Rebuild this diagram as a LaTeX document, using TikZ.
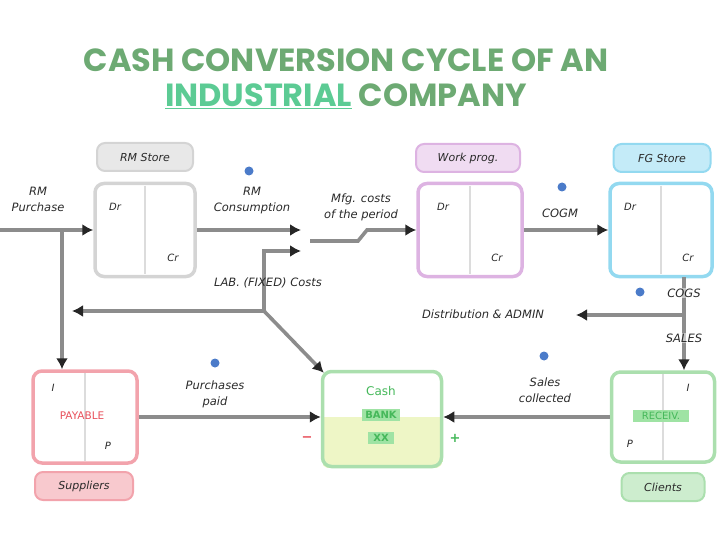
\documentclass[tikz,border=0pt]{standalone}
\usepackage{fontspec}
\setmainfont{DejaVu Sans}
\newfontfamily\titlefont{Poppins}
\usetikzlibrary{arrows.meta,backgrounds}
\definecolor{linec}{HTML}{8C8C8C}
\definecolor{tipc}{HTML}{262626}
\definecolor{grayb}{HTML}{D4D4D4}
\definecolor{grayf}{HTML}{E8E8E8}
\definecolor{purb}{HTML}{DDB3E2}
\definecolor{purf}{HTML}{F0DCF2}
\definecolor{cyab}{HTML}{93D9F0}
\definecolor{cyaf}{HTML}{C4EBF8}
\definecolor{pinb}{HTML}{F2A3AC}
\definecolor{pinf}{HTML}{F8C9CE}
\definecolor{grnb}{HTML}{ABDFAE}
\definecolor{grnf}{HTML}{CDEDCE}
\definecolor{yelf}{HTML}{EEF6C6}
\definecolor{dotc}{HTML}{4B7BC9}
\definecolor{titc}{HTML}{6DAA73}
\definecolor{indc}{HTML}{5CCB94}
\definecolor{txtc}{HTML}{2A2A2A}
\definecolor{redt}{HTML}{E8505B}
\definecolor{grnt}{HTML}{45B85A}
\definecolor{grnh}{HTML}{9FE3A4}
\definecolor{divc}{HTML}{DCDCDC}
\tikzset{
 acct/.style={draw=#1, line width=3.5pt, rounded corners=9pt, minimum width=100pt, minimum height=93pt, inner sep=0pt},
 tag/.style 2 args={draw=#1, fill=#2, line width=2pt, rounded corners=8pt, minimum height=28pt, inner sep=0pt, font=\itshape\fontsize{11}{13}\selectfont, text=txtc},
 flow/.style={draw=linec, line width=3.6pt, -{Latex[length=11pt,width=12pt,color=tipc]}},
 lbl/.style={font=\itshape\fontsize{11.5}{16}\selectfont, text=txtc, align=center, inner sep=1pt},
 small/.style={font=\itshape\fontsize{10}{12}\selectfont, text=txtc, inner sep=0pt},
 bdot/.style={circle, fill=dotc, minimum size=9pt, inner sep=0pt},
 divl/.style={draw=divc, line width=2pt},
 ttl/.style={font=\titlefont\bfseries\fontsize{32}{38}\selectfont, text=titc, inner sep=0pt},
}
\begin{document}
\begin{tikzpicture}[x=1pt,y=-1pt]
\useasboundingbox (0,0) rectangle (720,540);
% title
\node[ttl] (t1) at (346,60) {CASH CONVERSION CYCLE OF AN};
\node[ttl] (t2) at (346,96) {\textcolor{indc}{\underline{INDUSTRIAL}} COMPANY};
% account boxes
\node[acct=grayb] (rm) at (145,230) {};
\node[acct=purb, minimum width=104pt] (wip) at (470,230) {};
\node[acct=cyab, minimum width=102pt] (fg) at (661,230) {};
\node[acct=pinb, minimum width=104pt, minimum height=92pt] (pay) at (85,417) {};
\node[acct=grnb, minimum width=119pt, minimum height=95pt] (cash) at (382,419) {};
\node[acct=grnb, minimum width=103pt, minimum height=90pt] (rec) at (663,417) {};
\begin{scope}[on background layer]
\clip[rounded corners=9pt] (cash.north west) rectangle (cash.south east);
\fill[yelf] (323,417) rectangle (cash.south east);
\end{scope}
% tags
\node[tag={grayb}{grayf}, minimum width=96pt] (rmt) at (145,157) {RM Store};
\node[tag={purb}{purf}, minimum width=104pt] (wipt) at (468,158) {Work prog.};
\node[tag={cyab}{cyaf}, minimum width=97pt] (fgt) at (662,158) {FG Store};
\node[tag={pinb}{pinf}, minimum width=98pt] (supt) at (84,486) {Suppliers};
\node[tag={grnb}{grnf}, minimum width=83pt] (clit) at (663,487) {Clients};
% dividers
\draw[divl] ([yshift=-4pt]rm.north) -- ([yshift=4pt]rm.south);
\draw[divl] ([yshift=-4pt]wip.north) -- ([yshift=4pt]wip.south);
\draw[divl] ([yshift=-4pt]fg.north) -- ([yshift=4pt]fg.south);
\draw[divl] ([yshift=-4pt]pay.north) -- ([yshift=4pt]pay.south);
\draw[divl] ([yshift=-4pt]rec.north) -- ([yshift=4pt]rec.south);
% Dr / Cr
\node[small] (rmdr) at (115,207) {Dr};
\node[small] (rmcr) at (173,258) {Cr};
\node[small] (wipdr) at (443,207) {Dr};
\node[small] (wipcr) at (497,258) {Cr};
\node[small] (fgdr) at (630,207) {Dr};
\node[small] (fgcr) at (688,258) {Cr};
\node[small] (payi) at (53,388) {I};
\node[small] (payp) at (108,446) {P};
\node[small] (reci) at (688,388) {I};
\node[small] (recp) at (630,444) {P};
% inner texts
\node[text=redt, font=\fontsize{10.5}{12}\selectfont, inner sep=1pt] (payl) at (82,416) {PAYABLE};
\node[fill=grnh, text=grnt, font=\fontsize{10}{12}\selectfont, inner sep=2pt, minimum width=56pt] (recl) at (661,416) {RECEIV.};
\node[text=grnt, font=\fontsize{12}{14}\selectfont, inner sep=1pt] (cashl) at (381,391) {Cash};
\node[fill=grnh, text=grnt, font=\bfseries\fontsize{10}{12}\selectfont, inner sep=2pt, minimum width=38pt] (bank) at (381,415) {BANK};
\node[fill=grnh, text=grnt, font=\bfseries\fontsize{10}{12}\selectfont, inner sep=2pt, minimum width=26pt] (xx) at (381,438) {XX};
\node[text=redt, font=\bfseries\fontsize{13}{14}\selectfont, inner sep=0pt] (minus) at (307,439) {−};
\node[text=grnt, font=\bfseries\fontsize{13}{14}\selectfont, inner sep=0pt] (plus) at (455,438) {+};
% coordinates
\coordinate (rmin) at (0,230);
\coordinate (pj) at (62,230);
\coordinate (sumA) at (301,230);
\coordinate (sumB) at (301,251);
\coordinate (fj) at (264,311);
\coordinate (lend) at (72,311);
\coordinate (sumM) at (310,241);
\coordinate (fgo) at (684,277);
\coordinate (dj) at (684,315);
\coordinate (dend) at (576,315);
% connectors
\draw[flow] (rmin) -- (rm.west);
\draw[flow] (pj) -- (pj |- pay.north);
\draw[flow] (rm.east) -- (sumA);
\draw[flow] (fj) -- (fj |- sumB) -- (sumB);
\draw[flow] (fj) -- (lend);
\draw[flow] (fj) -- ([shift={(3pt,-3pt)}]cash.north west);
\draw[flow] (sumM) -- (358,241) -- (367,230) -- (wip.west);
\draw[flow] (wip.east) -- (fg.west);
\draw[flow] (fgo) -- (fgo |- rec.north);
\draw[flow] (dj) -- (dend);
\draw[flow] (rec.west) -- (rec.west -| cash.east);
\draw[flow] (pay.east) -- (pay.east -| cash.west);
% labels
\node[lbl] (rmpl) at (38,199) {RM\\Purchase};
\node[bdot] (d1) at (249,171) {};
\node[lbl] (rmcl) at (252,201) {RM\\Consumption};
\node[lbl] (mfgl) at (361,207) {Mfg. costs\\of the period};
\node[lbl] (fixl) at (268,283) {LAB. (FIXED) Costs};
\node[bdot] (d2) at (562,187) {};
\node[lbl] (cogml) at (560,213) {COGM};
\node[bdot] (d3) at (640,292) {};
\node[lbl, fill=white, fill opacity=0.5, text opacity=1] (cogsl) at (684,293) {COGS};
\node[lbl, fill=white, fill opacity=0.5, text opacity=1] (salesl) at (684,338) {SALES};
\node[lbl] (distl) at (483,314) {Distribution \& ADMIN};
\node[bdot] (d4) at (544,356) {};
\node[lbl] (scl) at (545,390) {Sales\\collected};
\node[bdot] (d5) at (215,363) {};
\node[lbl] (ppl) at (215,394) {Purchases\\paid};
\end{tikzpicture}
\end{document}
